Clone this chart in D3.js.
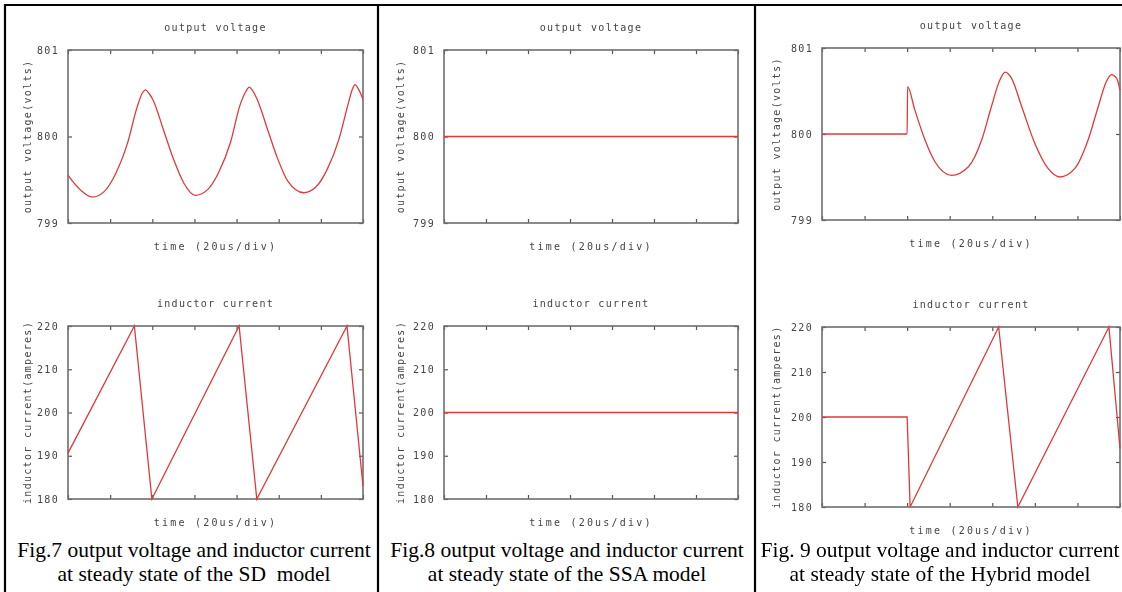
<!DOCTYPE html>
<html>
<head>
<meta charset="utf-8">
<script src="https://cdn.jsdelivr.net/npm/d3@7"></script>
<style>
  body { margin: 0; background: #fff; }
  .small { font-family: "DejaVu Sans Mono", monospace; font-size: 10px; fill: #444; letter-spacing: 1.3px; }
  .cap { font-family: "Liberation Serif", "Times New Roman", serif; font-size: 21.5px; fill: #000; white-space: pre; }
</style>
</head>
<body>
<div id="chart"></div>
<script>
// time axis in divisions (20us/div)
const timeTicks = [0, 1, 2, 3, 4, 5, 6, 7];
const voltTicks = [799, 800, 801];
const currTicks = [180, 190, 200, 210, 220];

// Fig.7 SD model
const sdVoltT = [0, 0.3, 0.58, 0.85, 1.13, 1.41, 1.64, 1.76, 1.84, 1.92, 2.02, 2.27, 2.51, 2.75, 3.02, 3.3, 3.58, 3.86, 4.08, 4.22, 4.3, 4.38, 4.48, 4.73, 4.97, 5.22, 5.59, 5.87, 6.15, 6.43, 6.65, 6.75, 6.81, 6.88, 7.0];
const sdVoltV = [799.55, 799.38, 799.30, 799.36, 799.57, 799.92, 800.34, 800.50, 800.54, 800.50, 800.42, 800.07, 799.73, 799.46, 799.32, 799.38, 799.59, 799.94, 800.36, 800.52, 800.57, 800.53, 800.44, 800.09, 799.75, 799.48, 799.35, 799.41, 799.62, 799.97, 800.38, 800.55, 800.60, 800.56, 800.43];
const sdCurrT = [0, 1.575, 1.99, 4.06, 4.48, 6.62, 7.0];
const sdCurrI = [190.6, 220, 180, 220, 180, 220, 183];

// Fig.8 SSA model
const ssaVoltT = [0, 7];
const ssaVoltV = [800, 800];
const ssaCurrT = [0, 7];
const ssaCurrI = [200, 200];

// Fig.9 Hybrid model
const hybVoltT = [0, 2.0, 2.01, 2.18, 2.42, 2.65, 3.04, 3.44, 3.75, 3.98, 4.18, 4.3, 4.45, 4.69, 5.0, 5.31, 5.59, 5.94, 6.25, 6.49, 6.68, 6.8, 6.92, 7.0];
const hybVoltV = [800, 800, 800.55, 800.28, 799.93, 799.68, 799.52, 799.62, 799.93, 800.32, 800.63, 800.72, 800.65, 800.32, 799.89, 799.60, 799.50, 799.60, 799.93, 800.32, 800.61, 800.69, 800.65, 800.51];
const hybCurrT = [0, 2.0, 2.07, 4.15, 4.6, 6.74, 7.0];
const hybCurrI = [200, 200, 180, 220, 180, 220, 193];

const captions = [
  ["Fig.7 output voltage and inductor current", "at steady state of the SD  model"],
  ["Fig.8 output voltage and inductor current", "at steady state of the SSA model"],
  ["Fig. 9 output voltage and inductor current", "at steady state of the Hybrid model"]
];

const W = 1122, H = 592;
const svg = d3.select("#chart").append("svg")
  .attr("width", W).attr("height", H)
  .attr("xmlns", "http://www.w3.org/2000/svg");

svg.append("defs").append("filter").attr("id", "soft")
  .append("feGaussianBlur").attr("stdDeviation", 0.45);

// layout of the three table cells
const cells = [
  {cx: 194, x0: 68, x1: 363, vy: [50, 223], iy: [326, 499], ylab: 27, volt: [sdVoltT, sdVoltV], curr: [sdCurrT, sdCurrI]},
  {cx: 567, x0: 444, x1: 738, vy: [50, 223], iy: [326, 499], ylab: 400, volt: [ssaVoltT, ssaVoltV], curr: [ssaCurrT, ssaCurrI]},
  {cx: 940, x0: 822, x1: 1120, vy: [48, 220], iy: [327, 507], ylab: 776, volt: [hybVoltT, hybVoltV], curr: [hybCurrT, hybCurrI]}
];

function plot(c, yr, domain, ticks, series, title, ylabel, curve) {
  const g = svg.append("g").attr("filter", "url(#soft)");
  const x = d3.scaleLinear().domain([0, 7]).range([c.x0, c.x1]);
  const y = d3.scaleLinear().domain(domain).range([yr[1], yr[0]]);
  const mid = (c.x0 + c.x1) / 2;

  g.append("text").attr("class", "small").attr("x", mid).attr("y", yr[0] - 19)
    .attr("text-anchor", "middle").text(title);
  g.append("text").attr("class", "small").attr("x", mid).attr("y", yr[1] + 27)
    .attr("text-anchor", "middle").style("letter-spacing", "2.2px").text("time (20us/div)");
  g.append("text").attr("class", "small")
    .attr("transform", `translate(${c.ylab},${(yr[0] + yr[1]) / 2}) rotate(-90)`)
    .attr("text-anchor", "middle").attr("dy", "0.35em").text(ylabel);

  const axes = [
    g.append("g").attr("transform", `translate(${c.x0},0)`)
      .call(d3.axisLeft(y).tickValues(ticks).tickSizeInner(-4).tickSizeOuter(0).tickPadding(9).tickFormat(d3.format("d"))),
    g.append("g").attr("transform", `translate(${c.x1},0)`)
      .call(d3.axisRight(y).tickValues(ticks).tickSizeInner(-4).tickSizeOuter(0).tickFormat("")),
    g.append("g").attr("transform", `translate(0,${yr[1]})`)
      .call(d3.axisBottom(x).tickValues(timeTicks).tickSizeInner(-4).tickSizeOuter(0).tickFormat("")),
    g.append("g").attr("transform", `translate(0,${yr[0]})`)
      .call(d3.axisTop(x).tickValues(timeTicks).tickSizeInner(-4).tickSizeOuter(0).tickFormat(""))
  ];
  axes.forEach(a => {
    a.select(".domain").remove();
    a.selectAll(".tick line").attr("stroke", "#555").attr("stroke-width", 1.2);
    a.selectAll(".tick text").attr("class", "small").attr("font-family", null).attr("font-size", null).attr("fill", null);
  });

  g.append("rect").attr("x", c.x0).attr("y", yr[0])
    .attr("width", c.x1 - c.x0).attr("height", yr[1] - yr[0])
    .attr("fill", "none").attr("stroke", "#6e6e6e").attr("stroke-width", 1.6);

  const pts = series[0].map((t, i) => [t, series[1][i]]);
  const line = d3.line().x(d => x(d[0])).y(d => y(d[1])).curve(curve);
  g.append("path").attr("d", line(pts))
    .attr("fill", "none").attr("stroke", "#e0393b").attr("stroke-width", 1.3);
}

cells.forEach((c, k) => {
  plot(c, c.vy, [799, 801], voltTicks, c.volt, "output voltage", "output voltage(volts)", d3.curveMonotoneX);
  plot(c, c.iy, [180, 220], currTicks, c.curr, "inductor current", "inductor current(amperes)", d3.curveLinear);
  svg.append("text").attr("class", "cap").attr("x", c.cx).attr("y", 557)
    .attr("text-anchor", "middle").text(captions[k][0]);
  svg.append("text").attr("class", "cap").attr("x", c.cx).attr("y", 581)
    .attr("text-anchor", "middle").text(captions[k][1]);
});

// table borders
const border = svg.append("g").attr("stroke", "#000").attr("stroke-width", 2.2);
border.append("line").attr("x1", 4).attr("x2", W).attr("y1", 5).attr("y2", 5);
[5, 378, 755].forEach(xv => {
  border.append("line").attr("x1", xv).attr("x2", xv).attr("y1", 4).attr("y2", H);
});
</script>
</body>
</html>
